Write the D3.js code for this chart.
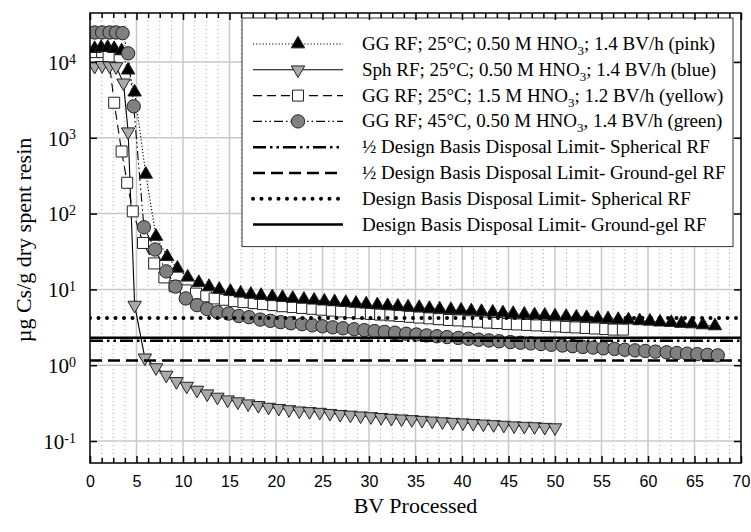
<!DOCTYPE html>
<html lang="en">
    <head>
        <meta charset="utf-8">
        <title>Cs breakthrough</title>
        <script type="text/javascript" src="https://cdnjs.cloudflare.com/ajax/libs/d3/7.8.5/d3.min.js"></script>
        <style type="text/css">
            body { margin: 0; background: #fff; }
            text { font-family: "Liberation Serif", "Times New Roman", serif; fill: #000; }
        </style>
    </head>
    <body>
        <script type="text/javascript">
            var w = 751;
            var h = 532;

            // GG RF; 25C; 0.50 M HNO3 (pink) - black up triangles
            var pinkX = [0.5,1.2,1.9,2.6,3.4,4.1,4.8,6.0,7.1,8.3,9.4,10.5,11.7,12.8,13.9,15.1,16.2,17.3,18.4,19.6,20.7,21.8,23.0,24.1,25.2,26.3,27.5,28.6,29.7,30.9,32.0,33.1,34.2,35.4,36.5,37.6,38.8,39.9,41.0,42.1,43.3,44.4,45.5,46.7,47.8,48.9,50.0,51.2,52.3,53.4,54.6,55.7,56.8,57.9,59.1,60.2,61.3,62.5,63.6,64.7,65.9,67.2];
            var pinkY = [15000,15500,15500,15000,14000,7800,4000,330,50,27,19,14.5,12.3,10.9,10.0,9.4,8.9,8.6,8.3,8.0,7.8,7.6,7.4,7.2,7.0,6.85,6.7,6.55,6.4,6.25,6.1,6.0,5.85,5.75,5.6,5.5,5.4,5.3,5.2,5.1,5.0,4.9,4.8,4.7,4.6,4.55,4.45,4.4,4.3,4.25,4.15,4.1,4.0,3.95,3.85,3.8,3.7,3.65,3.55,3.5,3.4,3.3];

            // Sph RF (blue) - gray down triangles
            var blueX = [0.5,1.3,2.1,2.8,3.6,4.1,4.8,5.9,7.1,8.2,9.3,10.4,11.5,12.6,13.7,14.8,15.9,17.0,18.1,19.2,20.3,21.4,22.5,23.6,24.7,25.8,26.9,28.0,29.1,30.2,31.3,32.4,33.5,34.6,35.7,36.8,37.9,39.0,40.1,41.2,42.3,43.4,44.5,45.6,46.7,47.8,48.9,50.0];
            var blueY = [8800,9000,8900,8700,5300,1200,6.2,1.25,0.93,0.74,0.61,0.53,0.47,0.42,0.38,0.35,0.33,0.31,0.295,0.28,0.27,0.26,0.25,0.245,0.24,0.232,0.225,0.22,0.215,0.21,0.205,0.2,0.196,0.192,0.188,0.184,0.18,0.177,0.174,0.171,0.168,0.165,0.162,0.159,0.157,0.155,0.152,0.15];

            // GG RF; 1.5 M HNO3 (yellow) - open squares
            var yellowX = [0.5,1.3,2.0,2.6,3.4,4.0,4.6,5.7,6.9,8.0,9.1,10.3,11.4,12.5,13.4,14.5,15.5,16.5,17.6,18.6,19.7,20.7,21.8,22.8,23.9,24.9,26.0,27.0,28.1,29.1,30.2,31.2,32.3,33.3,34.4,35.4,36.5,37.5,38.6,39.6,40.7,41.7,42.8,43.8,44.9,45.9,47.0,48.0,49.1,50.1,51.2,52.2,53.3,54.3,55.4,56.3,57.3];
            var yellowY = [13500,13500,11700,2900,660,255,107,41,22,14.4,11,9.7,8.8,8.1,7.6,7.3,7.0,6.8,6.6,6.4,6.2,6.0,5.85,5.7,5.55,5.4,5.25,5.1,5.0,4.85,4.75,4.65,4.55,4.45,4.35,4.25,4.15,4.05,3.95,3.9,3.8,3.75,3.65,3.6,3.5,3.45,3.4,3.35,3.3,3.25,3.2,3.15,3.1,3.05,3.0,2.95,2.95];

            // GG RF; 45C (green) - gray circles
            var greenX = [0.5,1.3,2.1,2.8,3.5,4.1,4.7,5.8,7.0,8.2,9.2,10.3,11.5,12.6,13.7,14.9,16.0,17.1,18.3,19.4,20.5,21.6,22.8,23.9,25.0,26.1,27.2,28.4,29.5,30.6,31.7,32.8,34.0,35.1,36.2,37.3,38.4,39.6,40.7,41.8,42.9,44.0,45.2,46.3,47.4,48.5,49.6,50.8,51.9,53.0,54.1,55.2,56.4,57.5,58.6,59.7,60.8,62.0,63.1,64.2,65.3,66.4,67.5];
            var greenY = [24500,24500,24500,24500,24000,13000,2600,66,33.6,17.3,10.9,7.6,6.2,5.5,5.0,4.8,4.45,4.3,4.0,3.85,3.7,3.58,3.47,3.36,3.26,3.16,3.07,2.98,2.9,2.82,2.75,2.68,2.6,2.54,2.47,2.41,2.35,2.29,2.23,2.17,2.12,2.07,2.02,1.98,1.94,1.9,1.86,1.82,1.78,1.74,1.71,1.67,1.64,1.6,1.57,1.54,1.51,1.48,1.45,1.42,1.4,1.37,1.35];

            // disposal limits: 1/2 Sph, 1/2 GG, Sph, GG
            var limitValues = [2.1, 1.15, 4.2, 2.3];

            var seriesLabels = [
                "GG RF; 25°C; 0.50 M HNO3; 1.4 BV/h (pink)",
                "Sph RF; 25°C; 0.50 M HNO3; 1.4 BV/h (blue)",
                "GG RF; 25°C; 1.5 M HNO3; 1.2 BV/h (yellow)",
                "GG RF; 45°C, 0.50 M HNO3, 1.4 BV/h (green)"
            ];
            var limitLabels = [
                "½ Design Basis Disposal Limit- Spherical RF",
                "½ Design Basis Disposal Limit- Ground-gel RF",
                "Design Basis Disposal Limit- Spherical RF",
                "Design Basis Disposal Limit- Ground-gel RF"
            ];
            var xTicks = [0,5,10,15,20,25,30,35,40,45,50,55,60,65,70];
            var yTicks = [0.1,1,10,100,1000,10000];

            var pl = 90, pr = 741, pt = 13, pb = 463;

            var x = d3.scaleLinear().domain([0, 70]).range([pl, pr]);
            var y = d3.scaleLog().domain([Math.pow(10, -1.29), Math.pow(10, 4.646)]).range([pb, pt]);

            var svg = d3.select("body")
                        .append("svg")
                        .attr("width", w)
                        .attr("height", h);

            svg.append("rect").attr("width", w).attr("height", h).attr("fill", "#fff");

            svg.append("defs").append("clipPath").attr("id", "plot")
               .append("rect")
               .attr("x", pl).attr("y", pt)
               .attr("width", pr - pl).attr("height", pb - pt);

            // minor dotted grid
            var minorX = d3.range(1, 56).map(function(i) { return i * 1.25; })
                           .filter(function(v) { return v % 5 !== 0; });
            svg.append("g").selectAll("line")
               .data(minorX)
               .enter()
               .append("line")
               .attr("x1", function(d) { return x(d); })
               .attr("x2", function(d) { return x(d); })
               .attr("y1", pt).attr("y2", pb)
               .attr("stroke", "#aaa")
               .attr("stroke-width", 1)
               .attr("stroke-dasharray", "1,3");

            // major grid
            svg.append("g").selectAll("line")
               .data(xTicks.slice(1, -1))
               .enter()
               .append("line")
               .attr("x1", function(d) { return x(d); })
               .attr("x2", function(d) { return x(d); })
               .attr("y1", pt).attr("y2", pb)
               .attr("stroke", "#c8c8c8")
               .attr("stroke-width", 1.5);
            svg.append("g").selectAll("line")
               .data(yTicks)
               .enter()
               .append("line")
               .attr("x1", pl).attr("x2", pr)
               .attr("y1", function(d) { return y(d); })
               .attr("y2", function(d) { return y(d); })
               .attr("stroke", "#c8c8c8")
               .attr("stroke-width", 1.5);

            var series = [
                { label: seriesLabels[0], pts: d3.zip(pinkX, pinkY), dash: "1.2,2", sym: d3.symbolTriangle, size: 78, rot: 0, fill: "#000" },
                { label: seriesLabels[1], pts: d3.zip(blueX, blueY), dash: null, sym: d3.symbolTriangle, size: 78, rot: 180, fill: "#aaa" },
                { label: seriesLabels[2], pts: d3.zip(yellowX, yellowY), dash: "9,5", sym: d3.symbolSquare, size: 121, rot: 0, fill: "#fff" },
                { label: seriesLabels[3], pts: d3.zip(greenX, greenY), dash: "9,3,1.5,3,1.5,3", sym: d3.symbolCircle, size: 140, rot: 0, fill: "#808080" }
            ];
            var drawOrder = [2, 0, 3, 1];

            var line = d3.line()
                         .x(function(d) { return x(d[0]); })
                         .y(function(d) { return y(d[1]); });

            var plot = svg.append("g").attr("clip-path", "url(#plot)");

            drawOrder.forEach(function(i) {
                var s = series[i];
                plot.append("path")
                    .attr("d", line(s.pts))
                    .attr("fill", "none")
                    .attr("stroke", "#000")
                    .attr("stroke-width", 1.1)
                    .attr("stroke-dasharray", s.dash);
            });
            drawOrder.forEach(function(i) {
                var s = series[i];
                plot.append("g").selectAll("path")
                    .data(s.pts)
                    .enter()
                    .append("path")
                    .attr("d", d3.symbol().type(s.sym).size(s.size))
                    .attr("transform", function(d) {
                        return "translate(" + x(d[0]) + "," + y(d[1]) + ") rotate(" + s.rot + ")";
                    })
                    .attr("fill", s.fill)
                    .attr("stroke", "#222")
                    .attr("stroke-width", 1);
            });

            var limits = [
                { label: limitLabels[0], v: limitValues[0], dash: "13,4,2.5,4,2.5,4", w: 2.5, cap: "butt" },
                { label: limitLabels[1], v: limitValues[1], dash: "12,6", w: 2.5, cap: "butt" },
                { label: limitLabels[2], v: limitValues[2], dash: "0,8.5", w: 4, cap: "round" },
                { label: limitLabels[3], v: limitValues[3], dash: null, w: 2.5, cap: "butt" }
            ];

            limits.forEach(function(l) {
                plot.append("line")
                    .attr("x1", pl).attr("x2", pr)
                    .attr("y1", y(l.v)).attr("y2", y(l.v))
                    .attr("stroke", "#000")
                    .attr("stroke-width", l.w)
                    .attr("stroke-linecap", l.cap)
                    .attr("stroke-dasharray", l.dash);
            });

            // legend
            var rowY = function(i) { return 44 + i * 25.8; };

            var lg = svg.append("g");
            lg.append("rect")
              .attr("x", 242).attr("y", 18)
              .attr("width", 491).attr("height", rowY(7) + 22 - 18)
              .attr("fill", "#fff")
              .attr("stroke", "#333")
              .attr("stroke-width", 1);

            function labelText(sel, str) {
                var parts = str.split("HNO3");
                sel.append("tspan").text(parts[0] + (parts.length > 1 ? "HNO" : ""));
                if (parts.length > 1) {
                    sel.append("tspan").attr("font-size", "13px").attr("dy", 5).text("3");
                    sel.append("tspan").attr("dy", -5).text(parts[1]);
                }
            }

            series.forEach(function(s, i) {
                var cy = rowY(i);
                lg.append("line")
                  .attr("x1", 253).attr("x2", 343)
                  .attr("y1", cy).attr("y2", cy)
                  .attr("stroke", "#000")
                  .attr("stroke-width", 1.1)
                  .attr("stroke-dasharray", s.dash);
                lg.append("path")
                  .attr("d", d3.symbol().type(s.sym).size(s.size))
                  .attr("transform", "translate(298," + cy + ") rotate(" + s.rot + ")")
                  .attr("fill", s.fill)
                  .attr("stroke", "#222")
                  .attr("stroke-width", 1);
                var t = lg.append("text")
                  .attr("x", 362).attr("y", cy + 6)
                  .attr("font-size", "19px");
                labelText(t, s.label);
            });
            limits.forEach(function(l, i) {
                var cy = rowY(i + 4);
                lg.append("line")
                  .attr("x1", 253).attr("x2", 343)
                  .attr("y1", cy).attr("y2", cy)
                  .attr("stroke", "#000")
                  .attr("stroke-width", l.w)
                  .attr("stroke-linecap", l.cap)
                  .attr("stroke-dasharray", l.dash);
                lg.append("text")
                  .attr("x", 362).attr("y", cy + 6)
                  .attr("font-size", "19px")
                  .text(l.label);
            });

            // axes with inward ticks
            var minorTicks = d3.range(0, 57).map(function(i) { return i * 1.25; })
                               .filter(function(v) { return v % 5 !== 0; });

            function styleAxis(g) {
                g.select(".domain").remove();
                g.selectAll("line").attr("stroke", "#000").attr("stroke-width", 1.5);
            }

            svg.append("g")
               .attr("transform", "translate(0," + pb + ")")
               .call(d3.axisBottom(x).tickValues(xTicks).tickSize(-7).tickPadding(13))
               .call(styleAxis)
               .selectAll("text")
               .style("font-family", "'Liberation Sans', Arial, sans-serif")
               .style("font-size", "16px");
            svg.append("g")
               .attr("transform", "translate(0," + pb + ")")
               .call(d3.axisBottom(x).tickValues(minorTicks).tickSize(-5).tickFormat(""))
               .call(styleAxis);
            svg.append("g")
               .attr("transform", "translate(0," + pt + ")")
               .call(d3.axisTop(x).tickValues(xTicks).tickSize(-7).tickFormat(""))
               .call(styleAxis);
            svg.append("g")
               .attr("transform", "translate(0," + pt + ")")
               .call(d3.axisTop(x).tickValues(minorTicks).tickSize(-5).tickFormat(""))
               .call(styleAxis);

            var yAxis = svg.append("g")
               .attr("transform", "translate(" + pl + ",0)")
               .call(d3.axisLeft(y).tickValues(yTicks).tickSize(-7).tickPadding(14).tickFormat(""))
               .call(styleAxis);
            yAxis.selectAll(".tick text")
               .style("font-size", "21px")
               .attr("dy", "0.35em")
               .each(function(d) {
                   var t = d3.select(this);
                   t.append("tspan").text("10");
                   t.append("tspan")
                    .attr("dy", "-0.45em")
                    .style("font-size", "14px")
                    .text(Math.round(Math.log10(d)));
               });
            svg.append("g")
               .attr("transform", "translate(" + pr + ",0)")
               .call(d3.axisRight(y).tickValues(yTicks).tickSize(-7).tickFormat(""))
               .call(styleAxis);

            svg.append("rect")
               .attr("x", pl).attr("y", pt)
               .attr("width", pr - pl).attr("height", pb - pt)
               .attr("fill", "none")
               .attr("stroke", "#000")
               .attr("stroke-width", 1.5);

            svg.append("text")
               .attr("transform", "translate(23," + ((pt + pb) / 2 + 2) + ") rotate(-90)")
               .attr("text-anchor", "middle")
               .attr("dy", "0.35em")
               .attr("font-size", "22px")
               .text("µg Cs/g dry spent resin");

            svg.append("text")
               .attr("x", (pl + pr) / 2)
               .attr("y", 513)
               .attr("text-anchor", "middle")
               .attr("font-size", "22px")
               .text("BV Processed");
        </script>
    </body>
</html>
